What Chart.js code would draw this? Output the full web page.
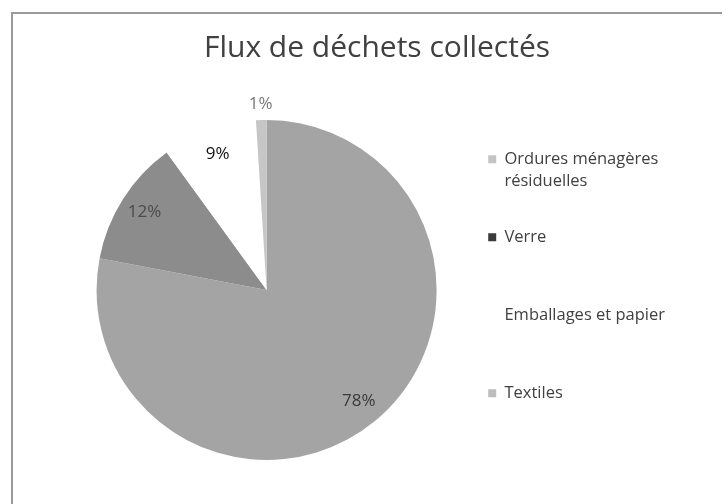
<!DOCTYPE html>
<html>
<head>
<meta charset="utf-8">
<script src="https://cdn.jsdelivr.net/npm/chart.js@4.4.1/dist/chart.umd.min.js"></script>
<style>
  html, body { margin: 0; padding: 0; background: #ffffff; }
  #wrap { width: 726px; height: 504px; position: relative; }
</style>
</head>
<body>
<div id="wrap"><canvas id="c" width="726" height="504"></canvas></div>
<script>
const chartTitle = 'Flux de déchets collectés';
const categories = ['Ordures ménagères résiduelles', 'Verre', 'Emballages et papier', 'Textiles'];
const legendLines = [['Ordures ménagères', 'résiduelles'], ['Verre', ''], ['Emballages et papier', ''], ['Textiles', '']];
const values = [78, 12, 9, 1];
const percentLabels = ['78%', '12%', '9%', '1%'];
const sliceColors = ['#a4a4a4', '#8c8c8c', '#ffffff', '#c6c6c6'];
const legendMarkerColors = ['#c4c4c4', '#3a3a3a', '#ffffff', '#bdbdbd'];
const percentColors = ['#3a3a3a', '#4a4a4a', '#111111', '#777777'];

const frame = {
  id: 'frame',
  beforeDraw(chart) {
    const ctx = chart.ctx;
    ctx.save();
    ctx.strokeStyle = '#9a9a9a';
    ctx.lineWidth = 2;
    ctx.beginPath();
    ctx.moveTo(12, 13); ctx.lineTo(12, 504);
    ctx.moveTo(11, 13); ctx.lineTo(722, 13);
    ctx.stroke();
    ctx.restore();
  }
};

const pctLabels = {
  id: 'pctLabels',
  afterDatasetsDraw(chart) {
    const ctx = chart.ctx;
    const meta = chart.getDatasetMeta(0);
    const total = values.reduce((a, b) => a + b, 0);
    ctx.save();
    ctx.font = '17px "Open Sans", sans-serif';
    ctx.textAlign = 'center';
    ctx.textBaseline = 'middle';
    meta.data.forEach((arc, i) => {
      const p = arc.getProps(['x', 'y', 'startAngle', 'endAngle', 'outerRadius'], true);
      const mid = (p.startAngle + p.endAngle) / 2;
      const small = values[i] / total < 0.03;
      const r = small ? p.outerRadius + 16 : p.outerRadius * 0.85;
      ctx.fillStyle = percentColors[i];
      ctx.fillText(percentLabels[i], p.x + Math.cos(mid) * r, p.y + Math.sin(mid) * r);
    });
    ctx.restore();
  }
};

new Chart(document.getElementById('c'), {
  type: 'pie',
  data: {
    labels: categories,
    datasets: [{
      data: values,
      backgroundColor: sliceColors,
      borderWidth: 0
    }]
  },
  options: {
    responsive: false,
    animation: false,
    radius: 170,
    layout: { padding: { top: 0, left: 79, right: 51, bottom: 40 } },
    plugins: {
      title: {
        display: true,
        text: chartTitle,
        color: '#404040',
        font: { family: 'Open Sans', size: 30, weight: 'normal', lineHeight: 1.2 },
        padding: { top: 30, bottom: 50 }
      },
      legend: {
        position: 'right',
        align: 'center',
        fullSize: false,
        labels: {
          boxWidth: 8,
          boxHeight: 8,
          padding: 34,
          color: '#404040',
          font: { family: 'Open Sans', size: 16.5, lineHeight: 1.333 },
          generateLabels(chart) {
            const base = Chart.overrides.pie.plugins.legend.labels.generateLabels(chart);
            return base.map((item, i) => Object.assign(item, {
              text: legendLines[i],
              fillStyle: legendMarkerColors[i],
              strokeStyle: legendMarkerColors[i],
              lineWidth: 0
            }));
          }
        }
      },
      tooltip: { enabled: false }
    }
  },
  plugins: [frame, pctLabels]
});
</script>
</body>
</html>
